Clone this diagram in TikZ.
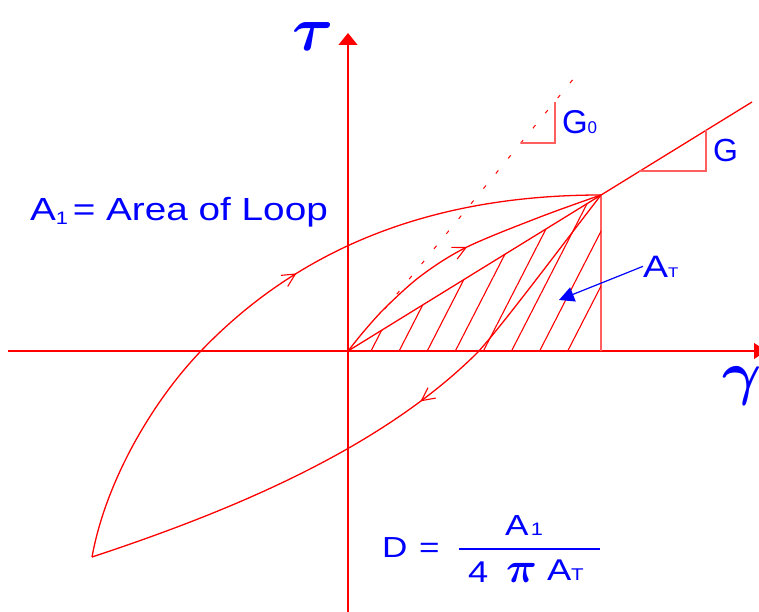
\documentclass[tikz,border=0pt]{standalone}
\usepackage{fontspec}
\setmainfont{Liberation Sans}
\usepackage{amsmath,bm,graphicx}
\usetikzlibrary{arrows.meta,decorations.markings}
\definecolor{lred}{RGB}{255,0,0}
\definecolor{lblue}{RGB}{0,0,255}
\definecolor{pinkred}{RGB}{255,95,95}
\newcommand{\hs}[1]{\scalebox{1.21}[1]{#1}}
\newcommand{\fsz}[1]{\fontsize{#1}{#1}\selectfont}
\tikzset{barbtip/.tip={Straight Barb[length=13pt,width=13pt,line width=1.1pt]}}
\begin{document}
\begin{tikzpicture}[x=1pt,y=-1pt,
  curve/.style={lred,line width=1.3pt},
  axisline/.style={lred,line width=1.2pt},
  hatchline/.style={lred,line width=1.1pt},
  pinkline/.style={pinkred,line width=1.6pt},
  lbl/.style={lblue,inner sep=0pt,outer sep=0pt},
  arrowmark/.style={postaction={decorate},decoration={markings,mark=at position #1 with {\arrow{barbtip}}}}
]
\useasboundingbox (0,0) rectangle (759,612);
\clip (0,0) rectangle (759,612);

% key points
\coordinate (O) at (348,351);
\coordinate (P) at (601,195);
\coordinate (E) at (752,102);
\coordinate (F) at (601,351);
\coordinate (B) at (92,557);
\coordinate (ytop) at (348,33);
\coordinate (ybot) at (348,614);
\coordinate (xl) at (8,351);
\coordinate (xr) at (766,351);

% axes
\draw[axisline,-{Triangle[length=12pt,width=19pt]}] (ybot) -- (ytop);
\draw[axisline,-{Triangle[length=12pt,width=16pt]}] (xl) -- (xr);

% secant line and vertical
\draw[curve] (O) -- (E);
\draw[pinkline] (P) -- (F);

% hatching
\begin{scope}
  \clip (O) -- (P) -- (F) -- cycle;
  \foreach \k in {0,...,7}
    \draw[hatchline] ({371+28.1*\k},351) -- ++(110,-214.5);
\end{scope}

% dotted tangent G0
\coordinate (g0a) at (384.5,309.2);
\coordinate (g0b) at (577,74.5);
\draw[lred,line width=1pt,dash pattern=on 4pt off 15.5pt] (g0a) -- (g0b);

% slope triangles
\coordinate (t0a) at (521,143);
\coordinate (t0b) at (555,143);
\coordinate (t0c) at (555,102);
\draw[pinkline] (t0a) -- (t0b) -- (t0c);
\coordinate (t1a) at (639,171);
\coordinate (t1b) at (706,171);
\coordinate (t1c) at (706,130);
\draw[pinkline] (t1a) -- (t1b) -- (t1c);

% hysteresis loop upper branch
\coordinate (U) at (200,352);
\draw[curve,arrowmark=0.53] (B) .. controls (106.4,478) and (155,399) .. (U)
   .. controls (310,236.5) and (451,195) .. (P);
% lower branch
\coordinate (L) at (478,352);
\draw[curve,arrowmark=0.43] (P) .. controls (560,248) and (503,324.5) .. (L)
   .. controls (378,452) and (222,514) .. (B);
% virgin curve
\draw[curve,arrowmark=0.526] plot[smooth,tension=0.55] coordinates {(348,351) (365,330) (387,306) (422,275) (467,247) (540,217) (601,195)};

% axis labels
\node[lbl] (tau) at (313,37) {\scalebox{6.3}{$\boldsymbol{\tau}$}};
\node[lbl] (gam) at (742,386) {\scalebox{6}{$\boldsymbol{\gamma}$}};

% G labels
\node[lbl,anchor=base west] (G0) at (562,134) {\fsz{33}G\fsz{17}0};
\node[lbl,anchor=base west] (G) at (713,162) {\fsz{32}G};

% loop area label
\node[lbl,anchor=base west] (A1) at (30,221) {\hs{\fsz{32}A\raisebox{-4pt}{\fsz{18}1}\hspace{4pt}= Area of Loop}};

% A_T label and arrow
\node[lbl,anchor=base west] (AT) at (643,277) {\hs{\fsz{31}A\fsz{14}T}};
\coordinate (att) at (559,300);
\draw[lblue,line width=1.2pt,-{Triangle[length=15pt,width=15pt]}] (AT.west) -- (att);

% formula
\node[lbl,anchor=base west] (D) at (382,557) {\hs{\fsz{29}D}};
\node[lbl,anchor=base west] (eq) at (419,557) {\hs{\fsz{29}=}};
\node[lbl,anchor=base west] (num) at (505,535) {\hs{\fsz{29}A\fsz{18}\hspace{2pt}1}};
\coordinate (barL) at (459,549);
\coordinate (barR) at (600,549);
\draw[lblue,line width=1.3pt] (barL) -- (barR);
\node[lbl,anchor=base west] (d4) at (468,582) {\hs{\fsz{30}4}};
\node[lbl,anchor=base west] (dpi) at (506,582) {\scalebox{4.3}{$\boldsymbol{\pi}$}};
\node[lbl,anchor=base west] (dAT) at (547,580) {\hs{\fsz{30}A\fsz{17}T}};
\end{tikzpicture}
\end{document}
